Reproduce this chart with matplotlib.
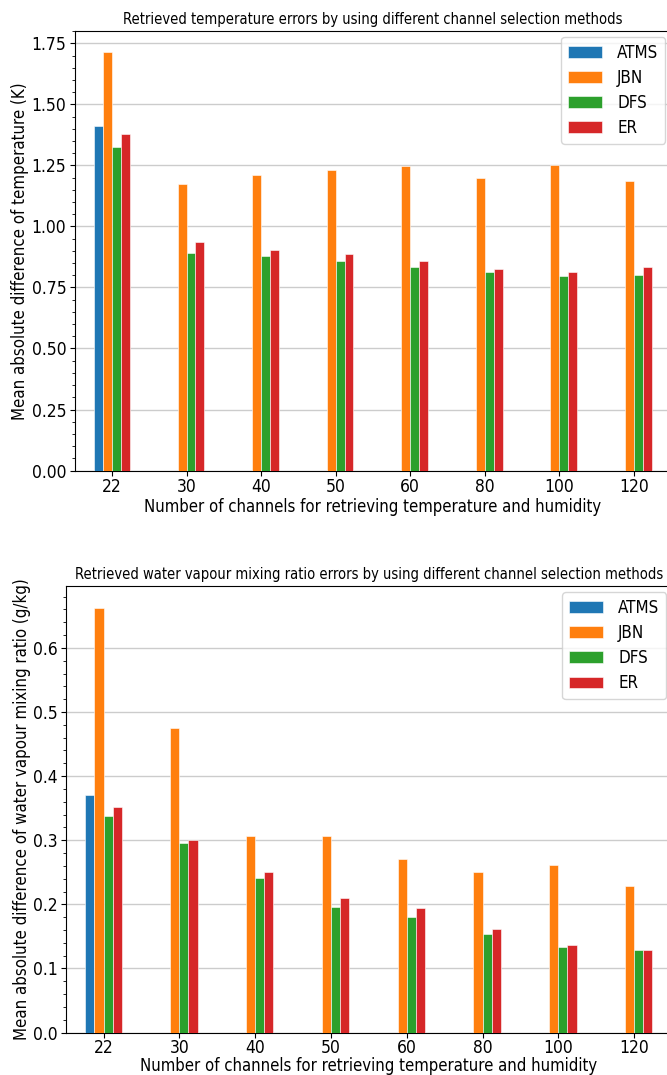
import matplotlib
matplotlib.use("Agg")
import matplotlib.pyplot as plt
from matplotlib.ticker import AutoMinorLocator
import numpy as np

channels = ["22", "30", "40", "50", "60", "80", "100", "120"]
methods = ["ATMS", "JBN", "DFS", "ER"]
colors = ["#1f77b4", "#ff7f0e", "#2ca02c", "#d62728"]

temp_atms = [1.410, 0, 0, 0, 0, 0, 0, 0]
temp_jbn = [1.715, 1.174, 1.211, 1.230, 1.249, 1.200, 1.251, 1.185]
temp_dfs = [1.327, 0.893, 0.880, 0.860, 0.835, 0.814, 0.796, 0.801]
temp_er = [1.377, 0.937, 0.905, 0.888, 0.859, 0.826, 0.812, 0.835]

wv_atms = [0.370, 0, 0, 0, 0, 0, 0, 0]
wv_jbn = [0.663, 0.475, 0.306, 0.307, 0.270, 0.251, 0.262, 0.228]
wv_dfs = [0.338, 0.295, 0.241, 0.196, 0.180, 0.154, 0.134, 0.128]
wv_er = [0.352, 0.300, 0.250, 0.210, 0.195, 0.162, 0.137, 0.129]

plt.rcParams["font.family"] = ["DejaVu Sans"]
plt.rcParams["font.stretch"] = "condensed"

fig = plt.figure(figsize=(6.67, 10.75), dpi=100)
ax1 = fig.add_axes([0.112, 0.5623, 0.894, 0.4089])
ax2 = fig.add_axes([0.0985, 0.0395, 0.909, 0.4151])

w = 0.12
x = np.arange(len(channels))


def draw(ax, series, title, ylabel, xpad, xlabelpad):
    offsets = [-1.5, -0.5, 0.5, 1.5]
    for s, name, c, o in zip(series, methods, colors, offsets):
        ax.bar(x + o * w, s, width=w, color=c, label=name,
               edgecolor="white", linewidth=0.4, zorder=3)
    ax.set_xlim(-0.5, 7.5)
    ax.set_xticks(x)
    ax.set_xticklabels(channels)
    ax.tick_params(axis="both", labelsize=12.5)
    ax.tick_params(axis="x", pad=xpad)
    ax.tick_params(axis="y", pad=2.5)
    ax.yaxis.set_minor_locator(AutoMinorLocator(5))
    ax.grid(axis="y", color="#cccccc", linewidth=1.0, zorder=0)
    ax.set_axisbelow(True)
    ax.set_title(title, fontsize=10.5, pad=5)
    ax.set_xlabel("Number of channels for retrieving temperature and humidity",
                  fontsize=12, labelpad=xlabelpad)
    ax.set_ylabel(ylabel, fontsize=12.1, labelpad=1.5)
    ax.legend(loc="upper right", fontsize=12.2, handlelength=2.0,
              handleheight=0.7, borderpad=0.4, labelspacing=0.42,
              handletextpad=0.9, borderaxespad=0.35)


draw(ax1, [temp_atms, temp_jbn, temp_dfs, temp_er],
     "Retrieved temperature errors by using different channel selection methods",
     "Mean absolute difference of temperature (K)", 2, 1)
ax1.set_yticks([0, 0.25, 0.5, 0.75, 1.0, 1.25, 1.5, 1.75])
ax1.set_yticklabels(["0.00", "0.25", "0.50", "0.75", "1.00", "1.25", "1.50", "1.75"])

draw(ax2, [wv_atms, wv_jbn, wv_dfs, wv_er],
     "Retrieved water vapour mixing ratio errors by using different channel selection methods",
     "Mean absolute difference of water vapour mixing ratio (g/kg)", 1.2, 0)
ax2.set_yticks([0, 0.1, 0.2, 0.3, 0.4, 0.5, 0.6])
ax2.set_yticklabels(["0.0", "0.1", "0.2", "0.3", "0.4", "0.5", "0.6"])

fig.savefig("out.png", dpi=100)
